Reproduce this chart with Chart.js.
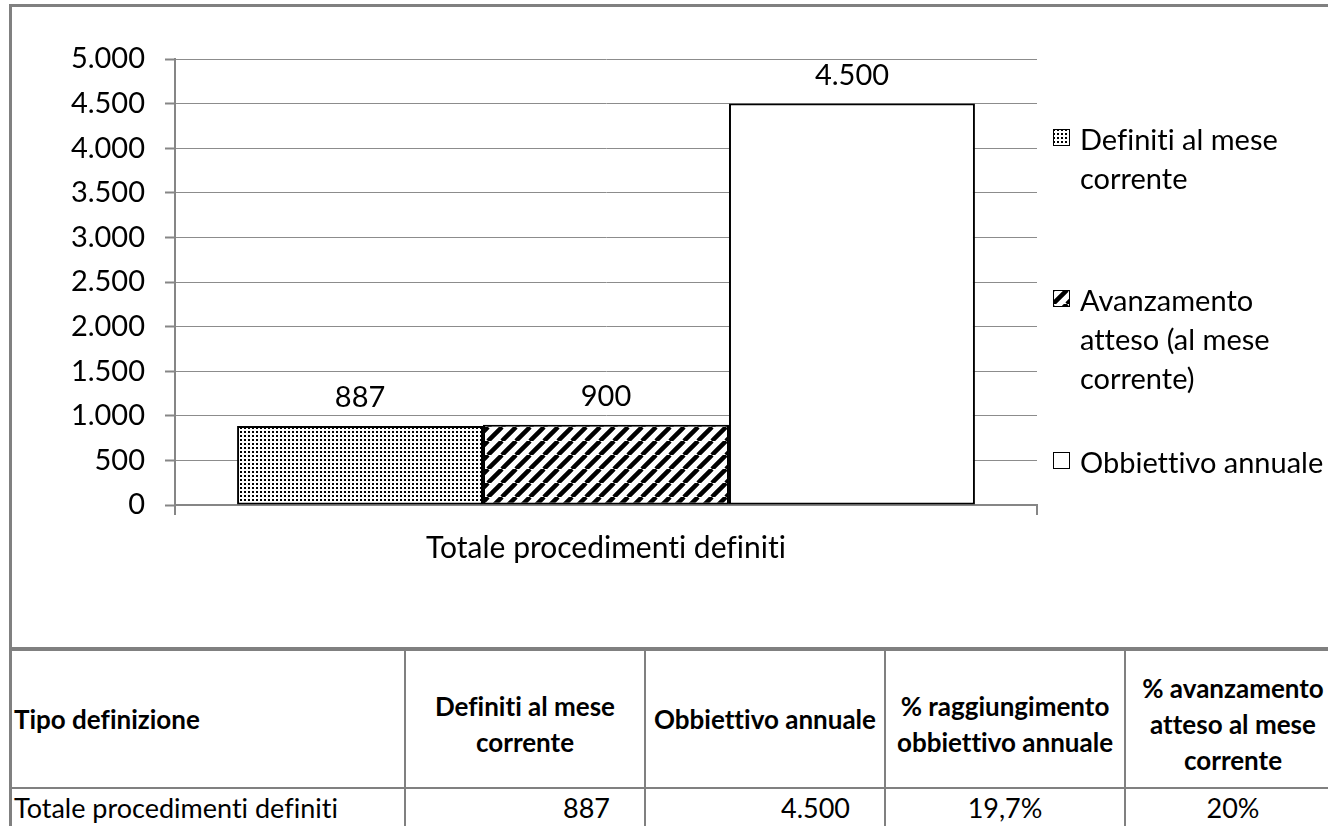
<!DOCTYPE html>
<html>
<head>
<meta charset="utf-8">
<script src="https://cdn.jsdelivr.net/npm/chart.js@4.4.0/dist/chart.umd.min.js"></script>
<style>
  html, body { margin: 0; padding: 0; background: #fff; }
  body { width: 1328px; height: 826px; overflow: hidden; position: relative; font-family: Lato, sans-serif; color: #000;
         font-variant-ligatures: none; font-feature-settings: "liga" 0, "clig" 0; }
  .rule { position: absolute; background: #808080; }
  #chart { position: absolute; left: 12px; top: 7px; }
  .leg { position: absolute; left: 1053px; font-size: 29px; line-height: 39px; white-space: nowrap; }
  .leg canvas { position: absolute; left: 0; top: 10px; }
  .leg div { margin-left: 27px; }
  .cell { position: absolute; display: flex; align-items: center; font-size: 27px; line-height: 36px; white-space: nowrap; box-sizing: border-box; }
  .head { font-weight: bold; font-size: 26px; }
</style>
</head>
<body>
<div class="rule" style="left:9px;top:4px;width:1319px;height:3px"></div>
<div class="rule" style="left:9px;top:4px;width:3px;height:822px"></div>
<canvas id="chart" width="1316" height="640"></canvas>
<div id="legend"></div>
<div id="table"></div>

<script>
const categories = ['Totale procedimenti definiti'];
const seriesNames = ['Definiti al mese corrente', 'Avanzamento atteso (al mese corrente)', 'Obbiettivo annuale'];
const legendLines = [['Definiti al mese', 'corrente'], ['Avanzamento', 'atteso (al mese', 'corrente)'], ['Obbiettivo annuale']];
const definiti = [887];
const atteso = [900];
const obiettivo = [4500];
const yMin = 0, yMax = 5000, yStep = 500;

const headerLines = [
  ['Tipo definizione'],
  ['Definiti al mese', 'corrente'],
  ['Obbiettivo annuale'],
  ['% raggiungimento', 'obbiettivo annuale'],
  ['% avanzamento', 'atteso al mese', 'corrente']
];
const rowValues = ['Totale procedimenti definiti', '887', '4.500', '19,7%', '20%'];

const AXIS = '#868686';
const GRID = '#8c8c8c';
const fmt = v => String(v).replace(/\B(?=(\d{3})+(?!\d))/g, '.');

function dotPattern(ctx) {
  const c = document.createElement('canvas');
  c.width = 4; c.height = 4;
  const g = c.getContext('2d');
  g.fillStyle = '#fff'; g.fillRect(0, 0, 4, 4);
  g.fillStyle = '#000'; g.fillRect(0, 0, 2, 2);
  return ctx.createPattern(c, 'repeat');
}

function stripePattern(ctx) {
  const s = 14;
  const c = document.createElement('canvas');
  c.width = s; c.height = s;
  const g = c.getContext('2d');
  g.fillStyle = '#fff'; g.fillRect(0, 0, s, s);
  g.strokeStyle = '#000'; g.lineWidth = 4.5;
  g.beginPath();
  for (const k of [-s, 0, s]) { g.moveTo(k, s); g.lineTo(k + s, 0); }
  g.stroke();
  return ctx.createPattern(c, 'repeat');
}

const canvas = document.getElementById('chart');
const ctx = canvas.getContext('2d');
// no "ti" ligatures in canvas text
if ('letterSpacing' in ctx) ctx.letterSpacing = '0.2px';
if ('textRendering' in ctx) ctx.textRendering = 'optimizeSpeed';
const fills = [dotPattern(ctx), stripePattern(ctx), '#fff'];

const valueLabels = {
  id: 'valueLabels',
  afterDatasetsDraw(chart) {
    const c = chart.ctx;
    c.save();
    c.font = '29px Lato';
    c.fillStyle = '#000';
    c.textAlign = 'center';
    c.textBaseline = 'middle';
    chart.data.datasets.forEach((ds, i) => {
      chart.getDatasetMeta(i).data.forEach((bar, j) => {
        c.fillText(fmt(ds.data[j]), bar.x, bar.y - 28);
      });
    });
    c.restore();
  }
};

new Chart(canvas, {
  type: 'bar',
  data: {
    labels: categories,
    datasets: [definiti, atteso, obiettivo].map((d, i) => ({
      label: seriesNames[i],
      data: d,
      backgroundColor: fills[i],
      borderColor: '#000',
      borderWidth: 2,
      borderSkipped: false,
      barPercentage: 1,
      categoryPercentage: 0.856
    }))
  },
  options: {
    responsive: false,
    animation: false,
    layout: { padding: { left: 0, top: 52, right: 291, bottom: 0 } },
    plugins: { legend: { display: false }, tooltip: { enabled: false } },
    scales: {
      x: {
        grid: { display: true, drawOnChartArea: false, drawTicks: true, tickLength: 10, color: AXIS, lineWidth: 2, offset: true },
        border: { color: AXIS, width: 2 },
        ticks: { color: '#000', font: { family: 'Lato', size: 30 }, padding: 15 },
        afterFit: s => { s.height = 142; }
      },
      y: {
        min: yMin, max: yMax,
        grid: { color: GRID, borderDash: [1, 2], lineWidth: 1, tickLength: 10, tickColor: AXIS, tickWidth: 2, tickBorderDash: [] },
        border: { color: AXIS, width: 2 },
        ticks: { stepSize: yStep, color: '#000', font: { family: 'Lato', size: 29 }, padding: 20, callback: v => fmt(v) },
        afterFit: s => { s.width = 163; }
      }
    }
  },
  plugins: [valueLabels]
});

// legend
const legend = document.getElementById('legend');
const legTops = [119, 280, 442];
legendLines.forEach((lines, i) => {
  const item = document.createElement('div');
  item.className = 'leg';
  item.style.top = legTops[i] + 'px';
  const ic = document.createElement('canvas');
  ic.width = 17; ic.height = 17;
  const g = ic.getContext('2d');
  const pats = [dotPattern(g), stripePattern(g), '#fff'];
  g.fillStyle = pats[i]; g.fillRect(0, 0, 17, 17);
  g.strokeStyle = '#000'; g.lineWidth = 1; g.strokeRect(0.5, 0.5, 16, 16);
  item.appendChild(ic);
  const txt = document.createElement('div');
  txt.innerHTML = lines.join('<br>');
  item.appendChild(txt);
  legend.appendChild(item);
});

// table
const table = document.getElementById('table');
const colLeft = [12, 406, 646, 886, 1126];
const colRight = [404, 644, 884, 1124, 1340];
function rule(l, t, w, h) {
  const d = document.createElement('div');
  d.className = 'rule';
  Object.assign(d.style, { left: l + 'px', top: t + 'px', width: w + 'px', height: h + 'px' });
  table.appendChild(d);
}
rule(9, 647, 1319, 4);
rule(12, 787, 1316, 2);
[404, 644, 884, 1124].forEach(x => rule(x, 651, 2, 175));

function cell(i, top, h, html, align, bold, padR, padT) {
  const d = document.createElement('div');
  d.className = 'cell' + (bold ? ' head' : '');
  Object.assign(d.style, {
    left: colLeft[i] + 'px', top: top + 'px', width: (colRight[i] - colLeft[i]) + 'px', height: h + 'px',
    justifyContent: align, textAlign: align === 'flex-start' ? 'left' : (align === 'flex-end' ? 'right' : 'center'),
    paddingLeft: i === 0 ? '2px' : '0', paddingRight: padR + 'px', paddingTop: padT + 'px'
  });
  d.innerHTML = html;
  table.appendChild(d);
}
headerLines.forEach((lines, i) => {
  cell(i, 651, 136, '<div>' + lines.join('<br>') + '</div>', i === 0 ? 'flex-start' : 'center', true, 0, lines.length > 1 ? 10 : 0);
});
const rowAlign = ['flex-start', 'flex-end', 'flex-end', 'center', 'center'];
rowValues.forEach((v, i) => {
  cell(i, 789, 38, v, rowAlign[i], false, rowAlign[i] === 'flex-end' ? 34 : 0, 0);
});
</script>
</body>
</html>
